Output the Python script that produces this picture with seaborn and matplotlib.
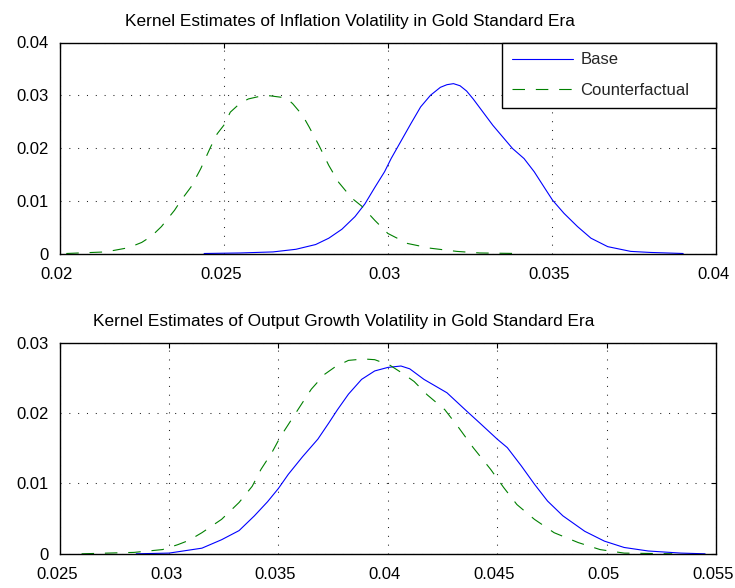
import matplotlib
matplotlib.use("Agg")
import matplotlib.pyplot as plt
import matplotlib.transforms as mtransforms
import seaborn as sns
from matplotlib.lines import Line2D
from matplotlib.ticker import FixedLocator, FixedFormatter

# ---- kernel density estimates: inflation volatility ----
infl_base_x = [0.0244, 0.0255, 0.0265, 0.0272, 0.0278, 0.0282, 0.0286, 0.0290,
               0.0293, 0.0296, 0.0299, 0.0301, 0.0304, 0.0307, 0.0310, 0.0313,
               0.0316, 0.0318, 0.0320, 0.0322, 0.0324, 0.0326, 0.0329, 0.0332,
               0.0335, 0.0338, 0.03415, 0.03446, 0.03476, 0.03502, 0.03537,
               0.03578, 0.03619, 0.0367, 0.0374, 0.0380, 0.0390]
infl_base_y = [0.0000, 0.0001, 0.0003, 0.0008, 0.0017, 0.0029, 0.0046, 0.0070,
               0.0094, 0.0125, 0.0155, 0.0180, 0.0213, 0.0246, 0.0278, 0.0300,
               0.0315, 0.0320, 0.0322, 0.0318, 0.0308, 0.0293, 0.0268, 0.0243,
               0.0221, 0.0199, 0.0180, 0.0155, 0.0126, 0.0101, 0.0076, 0.0051,
               0.0029, 0.0013, 0.0004, 0.0002, 0.0000]

infl_cf_x = [0.0202, 0.0214, 0.0221, 0.0225, 0.0228, 0.0231, 0.0235, 0.0237,
             0.0240, 0.0243, 0.0246, 0.0248, 0.0250, 0.0252, 0.0255, 0.02575,
             0.0261, 0.0264, 0.0269, 0.0271, 0.0274, 0.0276, 0.0279, 0.0282,
             0.0285, 0.0289, 0.0292, 0.0296, 0.0300, 0.0306, 0.0313, 0.0321,
             0.0328, 0.0340]
infl_cf_y = [0.0000, 0.0003, 0.0011, 0.0021, 0.0033, 0.0051, 0.0082, 0.0101,
             0.0126, 0.0161, 0.0202, 0.0227, 0.0243, 0.0268, 0.0285, 0.0293,
             0.0298, 0.0299, 0.0295, 0.0284, 0.0262, 0.0240, 0.0205, 0.0167,
             0.0135, 0.0105, 0.0090, 0.0063, 0.0038, 0.0019, 0.0010, 0.0004,
             0.0001, 0.0000]

# ---- kernel density estimates: output growth volatility ----
out_base_x = [0.0285, 0.0300, 0.0315, 0.0324, 0.0332, 0.0339, 0.0345, 0.0350,
              0.03545, 0.0361, 0.0368, 0.0373, 0.0377, 0.0382, 0.0388, 0.0394,
              0.0400, 0.0406, 0.0410, 0.04165, 0.0427, 0.0436, 0.0442, 0.0450,
              0.04546, 0.0461, 0.0467, 0.0473, 0.0480, 0.0490, 0.0499, 0.0508,
              0.0519, 0.0534, 0.0545]
out_base_y = [0.0000, 0.0001, 0.0008, 0.0020, 0.0033, 0.0054, 0.0074, 0.0093,
              0.0113, 0.0138, 0.0163, 0.0186, 0.0205, 0.0227, 0.0248, 0.0260,
              0.0265, 0.0267, 0.0263, 0.0248, 0.0229, 0.0203, 0.0186, 0.0163,
              0.0151, 0.0125, 0.0099, 0.0075, 0.0054, 0.0032, 0.0018, 0.0009,
              0.0004, 0.0001, 0.0000]

out_cf_x = [0.0260, 0.0284, 0.0297, 0.0304, 0.0309, 0.0315, 0.0324, 0.0332,
            0.0338, 0.0342, 0.0347, 0.0351, 0.0356, 0.0361, 0.0365, 0.0371,
            0.0376, 0.0382, 0.0389, 0.0394, 0.0401, 0.0407, 0.0412, 0.0418,
            0.0426, 0.0432, 0.0439, 0.0447, 0.0453, 0.0459, 0.0467, 0.0476,
            0.0487, 0.0497, 0.0508, 0.0530]
out_cf_y = [0.0000, 0.0002, 0.0006, 0.0013, 0.0019, 0.0030, 0.0049, 0.0073,
            0.0096, 0.0120, 0.0144, 0.0167, 0.0191, 0.0215, 0.0234, 0.0255,
            0.0266, 0.0275, 0.0277, 0.0276, 0.0268, 0.0256, 0.0245, 0.0226,
            0.0205, 0.0181, 0.0151, 0.0120, 0.0094, 0.0070, 0.0049, 0.0030,
            0.0016, 0.0006, 0.0001, 0.0000]

# ---- axis ticks and labels ----
infl_xticks = [0.02, 0.025, 0.03, 0.035, 0.04]
infl_xlabels = ["0.02", "0.025", "0.03", "0.035", "0.04"]
infl_yticks = [0.0, 0.01, 0.02, 0.03, 0.04]
infl_ylabels = ["0", "0.01", "0.02", "0.03", "0.04"]

out_xticks = [0.025, 0.03, 0.035, 0.04, 0.045, 0.05, 0.055]
out_xlabels = ["0.025", "0.03", "0.035", "0.04", "0.045", "0.05", "0.055"]
out_yticks = [0.0, 0.01, 0.02, 0.03]
out_ylabels = ["0", "0.01", "0.02", "0.03"]

series_names = ["Base", "Counterfactual"]
titles = ["Kernel Estimates of Inflation Volatility in Gold Standard Era",
          "Kernel Estimates of Output Growth Volatility in Gold Standard Era"]

sns.set_theme(style="white")
plt.rcParams["font.family"] = ["Liberation Sans", "DejaVu Sans"]
plt.rcParams["lines.scale_dashes"] = False

BLUE = "#0000ff"
GREEN = "#008000"
DASH = (0, (9.0, 7.8))
LW = 0.8

W, H = 735, 588
fig = plt.figure(figsize=(W / 100, H / 100), dpi=100)
fig.patch.set_facecolor("white")

ax1 = fig.add_axes([59.7 / W, 1 - 253.5 / H, 656.3 / W, 211.0 / H])
ax2 = fig.add_axes([59.7 / W, 1 - 553.8 / H, 656.3 / W, 211.0 / H])

# x tick labels sit a few pixels left of their ticks
label_shift = mtransforms.ScaledTranslation(-3.0 / 100, 0, fig.dpi_scale_trans)


def style_axes(ax, xlim, ylim, xt, xl, yt, yl):
    ax.set_xlim(*xlim)
    ax.set_ylim(*ylim)
    ax.xaxis.set_major_locator(FixedLocator(xt))
    ax.xaxis.set_major_formatter(FixedFormatter(xl))
    ax.yaxis.set_major_locator(FixedLocator(yt))
    ax.yaxis.set_major_formatter(FixedFormatter(yl))
    ax.set_xlabel("")
    ax.set_ylabel("")
    ax.set_facecolor("white")
    for s in ax.spines.values():
        s.set_visible(True)
        s.set_color("black")
        s.set_linewidth(1.0)
    ax.tick_params(axis="both", direction="in", length=3.3, width=0.8,
                   color="black", top=True, right=True, labelsize=12,
                   labelcolor="black")
    ax.tick_params(axis="x", pad=9.5)
    ax.tick_params(axis="y", pad=8)
    ax.grid(True, color="#222222", linestyle=(0, (0.75, 5.6)), linewidth=0.75)
    ax.set_axisbelow(True)
    for lab in ax.get_xticklabels():
        lab.set_transform(lab.get_transform() + label_shift)


# top panel
sns.lineplot(x=infl_base_x, y=infl_base_y, ax=ax1, color=BLUE, linewidth=LW,
             sort=False, estimator=None)
sns.lineplot(x=infl_cf_x, y=infl_cf_y, ax=ax1, color=GREEN, linewidth=LW,
             sort=False, estimator=None, linestyle=DASH)
style_axes(ax1, (0.02, 0.04), (0.0, 0.04), infl_xticks, infl_xlabels,
           infl_yticks, infl_ylabels)

# bottom panel
sns.lineplot(x=out_base_x, y=out_base_y, ax=ax2, color=BLUE, linewidth=LW,
             sort=False, estimator=None)
sns.lineplot(x=out_cf_x, y=out_cf_y, ax=ax2, color=GREEN, linewidth=LW,
             sort=False, estimator=None, linestyle=DASH)
style_axes(ax2, (0.025, 0.055), (0.0, 0.03), out_xticks, out_xlabels,
           out_yticks, out_ylabels)

# titles
fig.text(350 / W, 1 - 26 / H, titles[0], ha="center", va="baseline",
         fontsize=12.4, color="black")
fig.text(344 / W, 1 - 326 / H, titles[1], ha="center", va="baseline",
         fontsize=12.4, color="black")

# legend in the top panel
handles = [Line2D([], [], color=BLUE, linewidth=LW),
           Line2D([], [], color=GREEN, linewidth=LW, linestyle=DASH)]
x0 = (501.7 - 59.7) / 656.3
leg = ax1.legend(handles, series_names, loc="upper right",
                 bbox_to_anchor=(x0, 0.0, 1 - x0, 1.0), mode="expand",
                 borderaxespad=0, fancybox=False, framealpha=1,
                 edgecolor="black", fontsize=12, handlelength=3.7,
                 handletextpad=0.42, borderpad=0.6, labelspacing=0.94)
leg.get_frame().set_linewidth(1.0)
leg.set_zorder(5)

fig.savefig("out.png", dpi=100, facecolor="white")
